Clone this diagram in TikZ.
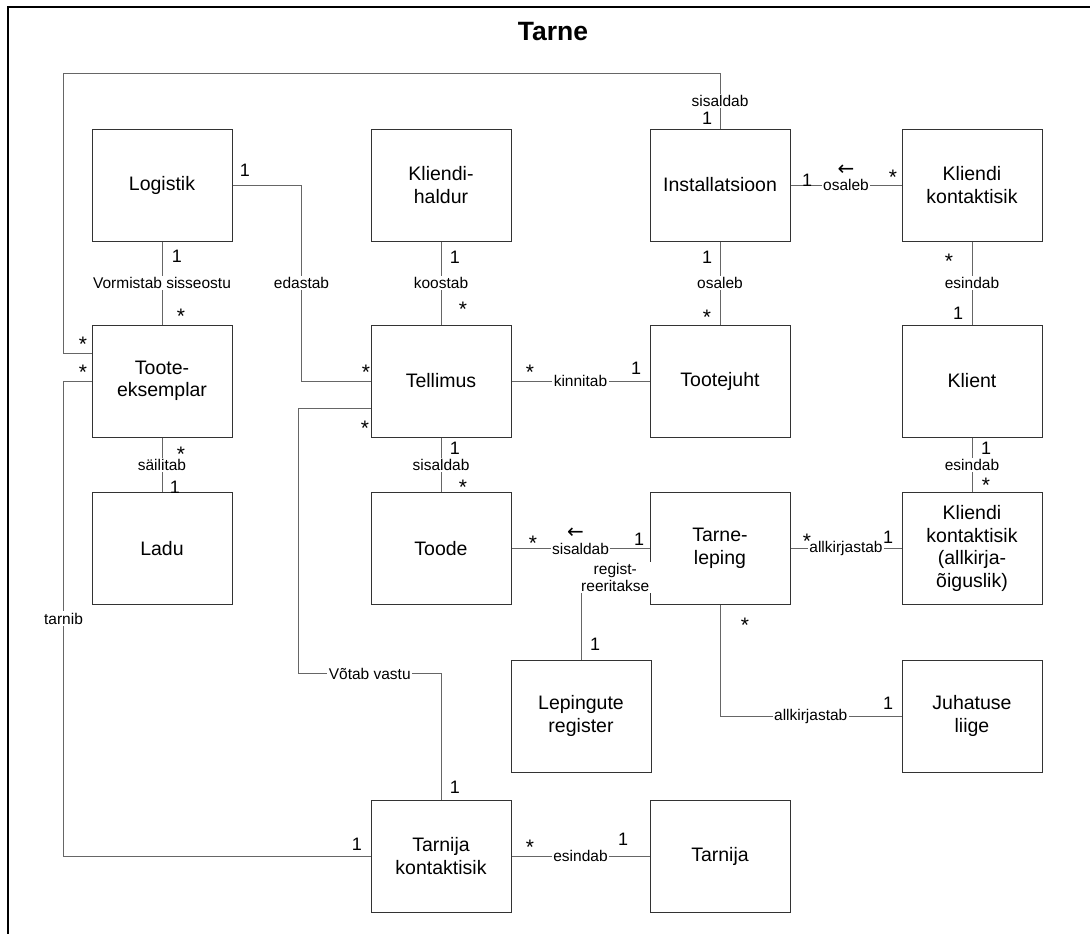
\documentclass[tikz,border=0pt]{standalone}
\usepackage{fontspec}
\setmainfont{Liberation Sans}
\newfontfamily\arrowfont{DejaVu Sans}
\usetikzlibrary{calc}

\begin{document}
\begin{tikzpicture}[x=1pt,y=-1pt,
  entity/.style={draw=black!80, line width=1pt, minimum width=140pt, minimum height=112pt,
    inner sep=2pt, align=center, font=\fontsize{19.5}{22.5}\selectfont},
  conn/.style={draw=black!60, line width=1pt},
  lbl/.style={fill=white, inner sep=1.5pt, align=center, font=\fontsize{15.5}{17}\selectfont},
  mult/.style={inner sep=0pt, font=\fontsize{18}{18}\selectfont},
  star/.style={inner sep=0pt, font=\fontsize{21}{21}\selectfont, yshift=-4.4pt},
  dirarrow/.style={inner sep=0pt, font=\arrowfont\fontsize{20}{20}\selectfont},
  frame/.style={draw=black, line width=1.5pt},
]
\useasboundingbox (0,0) rectangle (1090,934);

% frame and title
\draw[frame] (8,940) -- (8,7) -- (1096,7);
\node[inner sep=0pt, font=\fontsize{26.5}{28}\selectfont\bfseries] (title) at (553,32) {Tarne};

% entities
\node[entity] (logistik)       at (162,185) {Logistik};
\node[entity] (kliendihaldur)  at (441,185) {Kliendi-\\haldur};
\node[entity] (installatsioon) at (720,185) {Installatsioon};
\node[entity] (klkontakt)      at (972,185) {Kliendi\\kontaktisik};

\node[entity] (tooteeks)  at (162,381) {Toote-\\eksemplar};
\node[entity] (tellimus)  at (441,381) {Tellimus};
\node[entity] (tootejuht) at (720,381) {Tootejuht};
\node[entity] (klient)    at (972,381) {Klient};

\node[entity] (ladu)        at (162,548.5) {Ladu};
\node[entity] (toode)       at (441,548.5) {Toode};
\node[entity] (tarneleping) at (720,548.5) {Tarne-\\leping};
\node[entity] (klallk)      at (972,548.5) {Kliendi\\kontaktisik\\(allkirja-\\õiguslik)};

\node[entity] (lepingute) at (581,716) {Lepingute\\register};
\node[entity] (juhatus)   at (972,716) {Juhatuse\\liige};

\node[entity] (tarnkontakt) at (441,856) {Tarnija\\kontaktisik};
\node[entity] (tarnija)     at (720,856) {Tarnija};

% associations
\draw[conn] (logistik) -- node[lbl]{Vormistab sisseostu} (tooteeks);
\draw[conn] (logistik.east) -| node[lbl,pos=0.75]{edastab} ($(tellimus.west)+(-69,0)$) -- (tellimus.west);
\draw[conn] (installatsioon.north) |- node[lbl,pos=0.25]{sisaldab} ($(tooteeks.west)+(-28,-307)$)
  |- ($(tooteeks.west)+(0,-28)$);
\draw[conn] (tooteeks.west) -- ++(-28,0) |- node[lbl,pos=0.25]{tarnib} (tarnkontakt.west);
\draw[conn] (tooteeks) -- node[lbl]{säilitab} (ladu);
\draw[conn] (kliendihaldur) -- node[lbl]{koostab} (tellimus);
\draw[conn] (tellimus) -- node[lbl]{kinnitab} (tootejuht);
\draw[conn] ($(tellimus.west)+(0,27)$) -- ++(-72,0) |- node[lbl,pos=0.75]{Võtab vastu}
  ($(tarnkontakt.north)+(0,-126)$) -- (tarnkontakt.north);
\draw[conn] (tellimus) -- node[lbl]{sisaldab} (toode);
\draw[conn] (installatsioon) -- node[lbl]{osaleb} (tootejuht);
\draw[conn] (installatsioon) -- node[lbl] (osl) {osaleb} (klkontakt);
\draw[conn] (klkontakt) -- node[lbl]{esindab} (klient);
\draw[conn] (klient) -- node[lbl]{esindab} (klallk);
\draw[conn] (tarneleping) -- node[lbl] (sis) {sisaldab} (toode);
\draw[conn] (lepingute.north) |- node[lbl,pos=0.75,yshift=13pt]{regist-\\reeritakse}
  ($(tarneleping.west)+(0,42)$);
\draw[conn] (tarneleping.south) |- node[lbl,pos=0.75]{allkirjastab} (juhatus.west);
\draw[conn] (tarneleping) -- node[lbl]{allkirjastab} (klallk);
\draw[conn] (tarnkontakt) -- node[lbl]{esindab} (tarnija);

% reading direction arrows
\node[dirarrow] (dir1) at ($(osl)+(0,-15)$) {←};
\node[dirarrow] (dir2) at ($(sis)+(-5,-15.5)$) {←};

% multiplicities
\node[mult] (m1)  at (245,170) {1};
\node[star] (m2)  at (366,368) {*};
\node[mult] (m3)  at (177,256) {1};
\node[star] (m4)  at (181,312) {*};
\node[mult] (m5)  at (707,118) {1};
\node[star] (m6)  at (83,340)  {*};
\node[star] (m7)  at (83,368)  {*};
\node[mult] (m8)  at (357,844) {1};
\node[star] (m9)  at (181,449.5) {*};
\node[mult] (m10) at (175,487) {1};
\node[mult] (m11) at (455,257) {1};
\node[star] (m12) at (463,305) {*};
\node[star] (m13) at (530,368) {*};
\node[mult] (m14) at (636,368) {1};
\node[star] (m15) at (365,424) {*};
\node[mult] (m16) at (455,787) {1};
\node[mult] (m17) at (455,448) {1};
\node[star] (m18) at (463,483) {*};
\node[mult] (m19) at (707,257) {1};
\node[star] (m20) at (707,313) {*};
\node[mult] (m21) at (807,180) {1};
\node[star] (m22) at (893,173) {*};
\node[star] (m23) at (949,257) {*};
\node[mult] (m24) at (958,313) {1};
\node[mult] (m25) at (986,448) {1};
\node[star] (m26) at (986,481) {*};
\node[star] (m27) at (533,539) {*};
\node[mult] (m28) at (639,539) {1};
\node[mult] (m29) at (595,644) {1};
\node[star] (m30) at (745,621) {*};
\node[mult] (m31) at (888,703) {1};
\node[star] (m32) at (807,537) {*};
\node[mult] (m33) at (888,537) {1};
\node[star] (m34) at (530,843) {*};
\node[mult] (m35) at (623,839) {1};
\end{tikzpicture}
\end{document}
